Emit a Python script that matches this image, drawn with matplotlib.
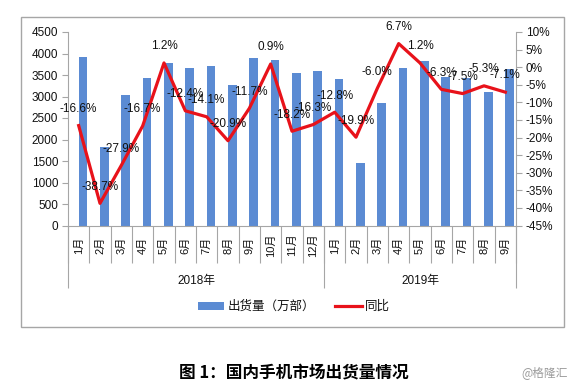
import numpy as np
import matplotlib
matplotlib.use("Agg")
import matplotlib.pyplot as plt
from matplotlib.patches import Rectangle, Patch
from matplotlib.lines import Line2D
from matplotlib.ticker import FuncFormatter

plt.rcParams["font.family"] = ["Liberation Sans", "Noto Sans CJK SC", "DejaVu Sans"]
plt.rcParams["axes.unicode_minus"] = False

# dados
years = ["2018年", "2019年"]
months_per_year = [12, 9]
month_labels = [f"{m}月" for m in range(1, 13)] + [f"{m}月" for m in range(1, 10)]
shipments = [3910, 1831, 3026, 3437, 3786, 3670, 3709, 3274, 3903, 3856, 3546, 3584,
             3414, 1459, 2847, 3662, 3833, 3445, 3430, 3096, 3639]
yoy = [-16.6, -38.7, -27.9, -16.7, 1.2, -12.4, -14.1, -20.9, -11.7, 0.9, -18.2, -16.3,
       -12.8, -19.9, -6.0, 6.7, 1.2, -6.3, -7.5, -5.3, -7.1]

BAR_COLOR = "#5b8bd3"
LINE_COLOR = "#e8121a"
GRAY = "#a6a6a6"
TXT = "#111111"

W, H = 584, 390
fig = plt.figure(figsize=(W / 100, H / 100), dpi=100)
ax_l, ax_r, ax_b, ax_t = 68, 516, 225.5, 32
ax = fig.add_axes([ax_l / W, 1 - ax_b / H, (ax_r - ax_l) / W, (ax_b - ax_t) / H])
ax_h = ax_b - ax_t

x = np.arange(len(shipments))
ax.bar(x, shipments, width=0.4, align="edge", color=BAR_COLOR, zorder=2)
ax.set_xlim(-0.5, len(x) - 0.5)
ax.set_ylim(0, 4500)
ax.set_yticks(np.arange(0, 4501, 500))

for s in ["top", "right"]:
    ax.spines[s].set_visible(False)
for s in ["left", "bottom"]:
    ax.spines[s].set_color(GRAY)
ax.tick_params(axis="y", length=4, color=GRAY, labelsize=8.5, labelcolor=TXT, pad=3)

# rotulos dos meses
ax.set_xticks(x)
ax.set_xticklabels(month_labels, rotation=90, fontsize=8)
ax.tick_params(axis="x", which="major", length=0, pad=14, labelcolor=TXT)
for lab in ax.get_xticklabels():
    lab.set_va("center")
ax.set_xticks(np.arange(-0.5, len(x), 1), minor=True)
ax.tick_params(axis="x", which="minor", length=26.5, color=GRAY, width=0.8)

# separadores dos anos
bounds = np.concatenate([[0], np.cumsum(months_per_year)]) - 0.5
ax.vlines(bounds, 0, -62.5 / ax_h, transform=ax.get_xaxis_transform(),
          color=GRAY, lw=0.8, clip_on=False)
for i, yr in enumerate(years):
    ax.text((bounds[i] + bounds[i + 1]) / 2, -(281 - ax_b) / ax_h, yr,
            transform=ax.get_xaxis_transform(), ha="center", va="center",
            fontsize=8.5, color=TXT)

# eixo secundario: variacao anual
ax2 = ax.twinx()
ax2.plot(x, yoy, color=LINE_COLOR, lw=2.3, zorder=3)
ax2.set_ylim(-45, 10)
ax2.set_yticks(np.arange(-45, 11, 5))
ax2.yaxis.set_major_formatter(FuncFormatter(lambda v, p: f"{v:.0f}%"))
ax2.tick_params(axis="y", length=4, color=GRAY, labelsize=8.5, labelcolor=TXT, pad=3)
for s in ["top", "left", "bottom"]:
    ax2.spines[s].set_visible(False)
ax2.spines["right"].set_color(GRAY)

for xi, v in zip(x, yoy):
    ax2.annotate(f"{v:.1f}%", (xi, v), xytext=(0, 12), textcoords="offset points",
                 ha="center", va="center", fontsize=8.5, color=TXT)

# legenda
handles = [Patch(facecolor=BAR_COLOR, edgecolor="none"),
           Line2D([0], [0], color=LINE_COLOR, lw=2.3)]
fig.legend(handles, ["出货量（万部）", "同比"], loc="center", ncol=2,
           bbox_to_anchor=(294 / W, 1 - 307 / H), frameon=False, fontsize=9,
           handlelength=2.1, handleheight=0.6, handletextpad=0.3, columnspacing=1.6,
           labelcolor=TXT)

# moldura do grafico
fig.patches.append(Rectangle((21 / W, 1 - 327 / H), (564 - 21) / W, (327 - 17) / H,
                             transform=fig.transFigure, fill=False,
                             edgecolor=GRAY, lw=1))

fig.text(294 / W, 1 - 372 / H, "图 1：国内手机市场出货量情况", ha="center", va="center",
         fontsize=12, fontweight="bold", family=["Noto Sans CJK SC", "DejaVu Sans"],
         color="#000000")
fig.text(545 / W, 1 - 373 / H, "@格隆汇", ha="center", va="center", fontsize=8.5,
         family=["Noto Sans CJK SC", "DejaVu Sans"], color="#9a9a9a")

fig.savefig("out.png", dpi=100)
